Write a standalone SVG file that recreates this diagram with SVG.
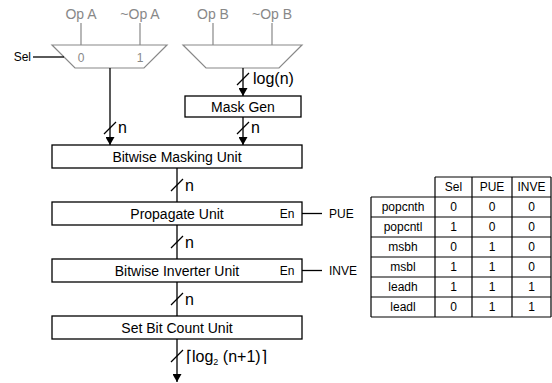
<svg xmlns="http://www.w3.org/2000/svg" width="552" height="383" viewBox="0 0 552 383">
<defs>
<marker id="arr" viewBox="0 0 8 9" refX="8" refY="4.5" markerWidth="8" markerHeight="9" markerUnits="userSpaceOnUse" orient="auto"><path d="M0,0 L8,4.5 L0,9 z" fill="#000"/></marker>
</defs>
<style>
text{font-family:"Liberation Sans",Arial,Helvetica,sans-serif;}
.g{fill:#888;font-size:14px;text-anchor:middle}
.gs{fill:#888;font-size:12px;text-anchor:middle}
.mux{fill:#fff;stroke:#888;stroke-width:1.2}
.gl{stroke:#888;stroke-width:1.2}
.box{fill:#fff;stroke:#000;stroke-width:1.3}
.w{stroke:#000;stroke-width:1.3;fill:none}
.lbl{font-size:14px;text-anchor:middle;fill:#000}
.bus{font-size:16px;fill:#000}
.t{font-size:12px;text-anchor:middle;fill:#000}
.tl{stroke:#000;stroke-width:1.2}
</style>

<g id="muxA">
<line class="gl" x1="81" y1="23" x2="81" y2="45"/>
<line class="gl" x1="140" y1="23" x2="140" y2="45"/>
<polygon class="mux" points="52,45 167,45 144,68 75,68"/>
<text class="g" x="81" y="19">Op A</text>
<text class="g" x="140" y="19">~Op A</text>
<text class="gs" x="81" y="62">0</text>
<text class="gs" x="140" y="62">1</text>
</g>
<g id="muxB">
<line class="gl" x1="213" y1="23" x2="213" y2="45"/>
<line class="gl" x1="272" y1="23" x2="272" y2="45"/>
<polygon class="mux" points="183,45 302,45 279,68 206,68"/>
<text class="g" x="213" y="19">Op B</text>
<text class="g" x="272" y="19">~Op B</text>
</g>
<g id="sel"><text x="31" y="61" font-size="12" text-anchor="end">Sel</text></g>
<g id="maskgen"><rect class="box" x="185" y="96" width="116" height="21"/><text class="lbl" x="243" y="111.5">Mask Gen</text></g>
<g id="masking"><rect class="box" x="52" y="145" width="250" height="23"/><text class="lbl" x="177" y="161.5">Bitwise Masking Unit</text></g>
<g id="propagate"><rect class="box" x="52" y="202" width="250" height="23"/><text class="lbl" x="177" y="218.5">Propagate Unit</text><text class="t" x="287" y="218" font-size="12">En</text></g>
<g id="inverter"><rect class="box" x="52" y="259" width="250" height="23"/><text class="lbl" x="177" y="275.5">Bitwise Inverter Unit</text><text class="t" x="287" y="275">En</text></g>
<g id="setbit"><rect class="box" x="52" y="316" width="250" height="23"/><text class="lbl" x="177" y="332.5">Set Bit Count Unit</text></g>
<g id="pue"><text x="329" y="218" font-size="12">PUE</text></g>
<g id="inve"><text x="329" y="275" font-size="12">INVE</text></g>

<g id="connectors">
<line class="w" x1="33" y1="57" x2="64" y2="57"/>
<line class="w" x1="110" y1="68" x2="110" y2="145" marker-end="url(#arr)"/>
<line class="w" x1="243" y1="68" x2="243" y2="96" marker-end="url(#arr)"/>
<line class="w" x1="243" y1="117" x2="243" y2="145" marker-end="url(#arr)"/>
<line class="w" x1="177" y1="168" x2="177" y2="202"/>
<line class="w" x1="177" y1="225" x2="177" y2="259"/>
<line class="w" x1="177" y1="282" x2="177" y2="316"/>
<line class="w" x1="177" y1="339" x2="177" y2="382" marker-end="url(#arr)"/>
<line class="w" x1="302" y1="213.5" x2="322" y2="213.5"/>
<line class="w" x1="302" y1="270.5" x2="322" y2="270.5"/>
<path class="w" d="M104,134 L116,122 M237,85 L249,73 M237,134 L249,122 M171,191 L183,179 M171,248 L183,236 M171,305 L183,293 M171,362 L183,350"/>
<text class="bus" x="118" y="133">n</text>
<text class="bus" x="253" y="84">log(n)</text>
<text class="bus" x="251" y="133">n</text>
<text class="bus" x="185" y="191">n</text>
<text class="bus" x="185" y="248">n</text>
<text class="bus" x="185" y="305">n</text>
<text class="bus" x="186" y="362">⌈log<tspan font-size="9" dy="3">2</tspan><tspan dy="-3"> (n+1)⌉</tspan></text>
</g>

<g id="table">
<line class="tl" x1="435" y1="177" x2="551" y2="177"/>
<line class="tl" x1="371" y1="197" x2="551" y2="197"/>
<line class="tl" x1="371" y1="217" x2="551" y2="217"/>
<line class="tl" x1="371" y1="237" x2="551" y2="237"/>
<line class="tl" x1="371" y1="257" x2="551" y2="257"/>
<line class="tl" x1="371" y1="277" x2="551" y2="277"/>
<line class="tl" x1="371" y1="297" x2="551" y2="297"/>
<line class="tl" x1="371" y1="317" x2="551" y2="317"/>
<line class="tl" x1="371" y1="197" x2="371" y2="317"/>
<line class="tl" x1="435" y1="177" x2="435" y2="317"/>
<line class="tl" x1="472" y1="177" x2="472" y2="317"/>
<line class="tl" x1="512" y1="177" x2="512" y2="317"/>
<line class="tl" x1="551" y1="177" x2="551" y2="317"/>
<text class="t" x="453.5" y="191">Sel</text><text class="t" x="492" y="191">PUE</text><text class="t" x="531.5" y="191">INVE</text>
<text class="t" x="403" y="211">popcnth</text><text class="t" x="453.5" y="211">0</text><text class="t" x="492" y="211">0</text><text class="t" x="531.5" y="211">0</text>
<text class="t" x="403" y="231">popcntl</text><text class="t" x="453.5" y="231">1</text><text class="t" x="492" y="231">0</text><text class="t" x="531.5" y="231">0</text>
<text class="t" x="403" y="251">msbh</text><text class="t" x="453.5" y="251">0</text><text class="t" x="492" y="251">1</text><text class="t" x="531.5" y="251">0</text>
<text class="t" x="403" y="271">msbl</text><text class="t" x="453.5" y="271">1</text><text class="t" x="492" y="271">1</text><text class="t" x="531.5" y="271">0</text>
<text class="t" x="403" y="291">leadh</text><text class="t" x="453.5" y="291">1</text><text class="t" x="492" y="291">1</text><text class="t" x="531.5" y="291">1</text>
<text class="t" x="403" y="311">leadl</text><text class="t" x="453.5" y="311">0</text><text class="t" x="492" y="311">1</text><text class="t" x="531.5" y="311">1</text>
</g>
</svg>
